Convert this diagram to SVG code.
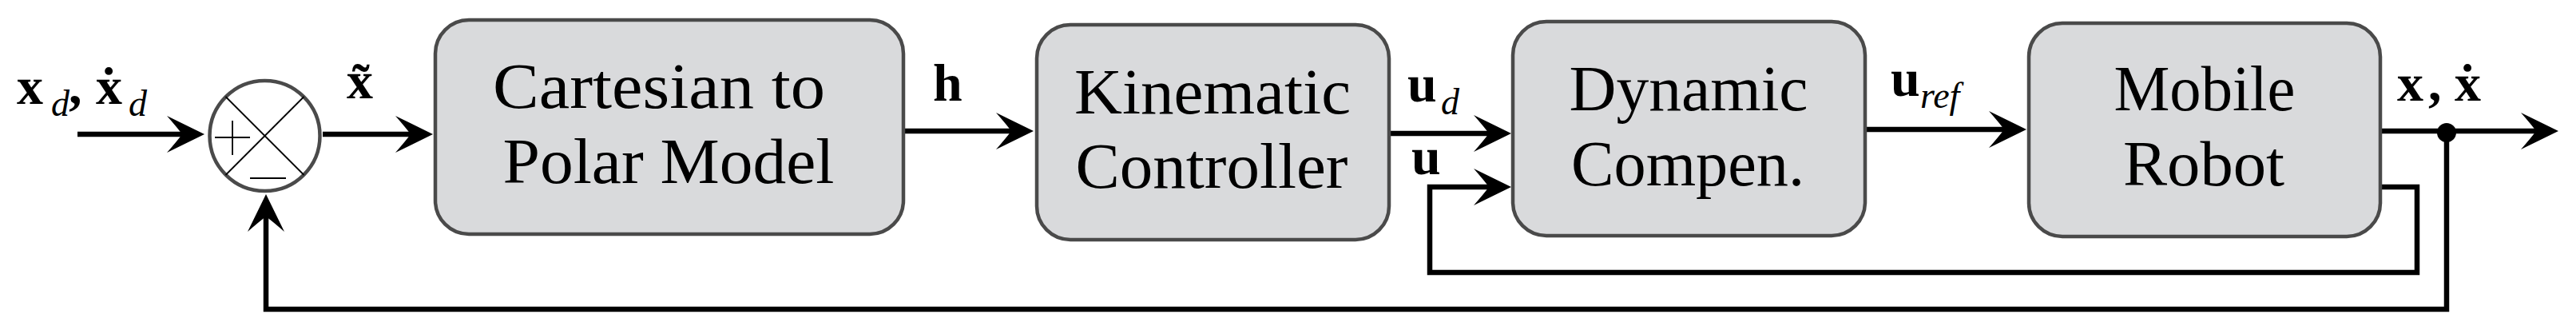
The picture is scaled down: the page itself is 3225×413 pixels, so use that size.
<svg xmlns="http://www.w3.org/2000/svg" xmlns:xlink="http://www.w3.org/1999/xlink" width="3225" height="413" viewBox="0 0 3225 413">
<style>
.box{fill:#d9dadc;stroke:#4a4a4a;stroke-width:4.5}
.t{font-family:"Liberation Serif","DejaVu Serif",serif;font-size:80px;fill:#000;text-anchor:middle}
.m{font-family:"Liberation Serif","DejaVu Serif",serif;font-size:66px;font-weight:bold;fill:#000}
.s{font-family:"Liberation Serif","DejaVu Serif",serif;font-size:46px;font-style:italic;font-weight:normal}
.w{fill:none;stroke:#000;stroke-width:6.5;stroke-linejoin:miter}
.thin{fill:none;stroke:#000;stroke-width:1.8}
.ah{fill:#000}
</style>
<defs>
<path id="ah" class="ah" d="M0,0 L-47,-23 Q-33,-7 -28,0 Q-33,7 -47,23 Z"/>
</defs>
<g id="connectors">
<path class="w" d="M97,168 H232"/>
<use xlink:href="#ah" href="#ah" transform="translate(256,168)"/>
<path class="w" d="M404,168 H518"/>
<use xlink:href="#ah" href="#ah" transform="translate(542,168)"/>
<path class="w" d="M1133,164 H1270"/>
<use xlink:href="#ah" href="#ah" transform="translate(1294,164)"/>
<path class="w" d="M1741,167 H1868"/>
<use xlink:href="#ah" href="#ah" transform="translate(1892,167)"/>
<path class="w" d="M2982,234 H3026 V341 H1790 V234 H1868"/>
<use xlink:href="#ah" href="#ah" transform="translate(1892,234)"/>
<path class="w" d="M2337,162 H2513"/>
<use xlink:href="#ah" href="#ah" transform="translate(2537,162)"/>
<path class="w" d="M2982,164 H3179"/>
<use xlink:href="#ah" href="#ah" transform="translate(3203,164)"/>
<path class="w" d="M3063,165 V387 H333 V267"/>
<use xlink:href="#ah" href="#ah" transform="translate(333,243) rotate(-90)"/>
<circle cx="3063" cy="166" r="12" fill="#000"/>
</g>
<g id="node-sum">
<circle cx="331.5" cy="170" r="69" fill="#fff" stroke="#4a4a4a" stroke-width="4.5"/>
<path class="thin" d="M282.5,121 L380.5,219 M282.5,219 L380.5,121"/>
<path class="thin" d="M269,172 H313 M291,151 V194"/>
<path class="thin" stroke-width="2.2" d="M313,223 H358"/>
</g>
<g id="node-cart">
<rect class="box" x="545" y="25" width="586" height="268" rx="42"/>
<text class="t" x="825" y="135" textLength="416" lengthAdjust="spacingAndGlyphs">Cartesian to</text>
<text class="t" x="837" y="229" textLength="415" lengthAdjust="spacingAndGlyphs">Polar Model</text>
</g>
<g id="node-kin">
<rect class="box" x="1298" y="31" width="441" height="269" rx="42"/>
<text class="t" x="1518" y="142" textLength="346" lengthAdjust="spacingAndGlyphs">Kinematic</text>
<text class="t" x="1517" y="235" textLength="341" lengthAdjust="spacingAndGlyphs">Controller</text>
</g>
<g id="node-dyn">
<rect class="box" x="1894" y="27" width="441" height="268" rx="42"/>
<text class="t" x="2114" y="138" textLength="299" lengthAdjust="spacingAndGlyphs">Dynamic</text>
<text class="t" x="2113" y="232" textLength="292" lengthAdjust="spacingAndGlyphs">Compen.</text>
</g>
<g id="node-robot">
<rect class="box" x="2540" y="29" width="440" height="267" rx="42"/>
<text class="t" x="2760" y="138" textLength="227" lengthAdjust="spacingAndGlyphs">Mobile</text>
<text class="t" x="2759" y="232" textLength="202" lengthAdjust="spacingAndGlyphs">Robot</text>
</g>
<g id="labels">
<text class="m" x="21" y="130">x<tspan class="s" x="64" y="145">d</tspan><tspan x="86" y="130">,</tspan><tspan x="120" y="130">ẋ</tspan><tspan class="s" x="161" y="145">d</tspan></text>
<text class="m" x="434" y="123">x̃</text>
<text class="m" x="1168" y="126">h</text>
<text class="m" x="1762" y="127">u<tspan class="s" x="1804" y="143">d</tspan></text>
<text class="m" x="1767" y="218">u</text>
<text class="m" x="2367" y="120">u<tspan class="s" x="2404" y="135">ref</tspan></text>
<text class="m" x="3001" y="126">x<tspan x="3040">,</tspan><tspan x="3073">ẋ</tspan></text>
</g>
</svg>
